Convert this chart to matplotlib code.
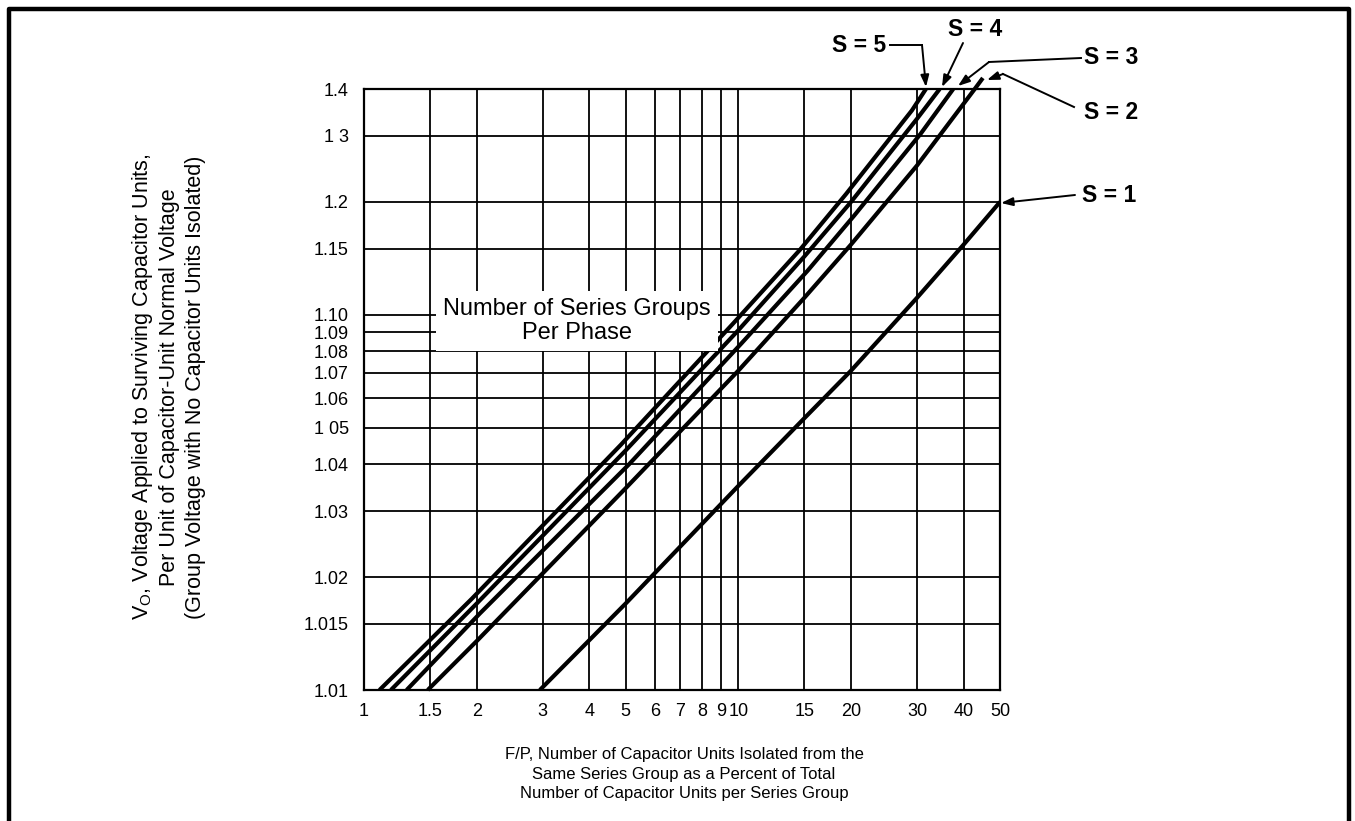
import numpy as np
import matplotlib
matplotlib.use("Agg")
import matplotlib.pyplot as plt
from matplotlib.lines import Line2D
from matplotlib.ticker import NullLocator, FixedLocator, FixedFormatter

plt.rcParams['font.family'] = ['Liberation Sans', 'DejaVu Sans']
plt.rcParams['mathtext.fontset'] = 'custom'
plt.rcParams['mathtext.rm'] = 'Liberation Sans'

# ---------------- data ----------------
x_ticks = [1, 1.5, 2, 3, 4, 5, 6, 7, 8, 9, 10, 15, 20, 30, 40, 50]
x_tick_labels = ["1", "1.5", "2", "3", "4", "5", "6", "7", "8", "9", "10",
                 "15", "20", "30", "40", "50"]
y_ticks = [1.01, 1.015, 1.02, 1.03, 1.04, 1.05, 1.06, 1.07, 1.08, 1.09,
           1.10, 1.15, 1.2, 1.3, 1.4]
y_tick_labels = ["1.01", "1.015", "1.02", "1.03", "1.04", "1 05", "1.06",
                 "1.07", "1.08", "1.09", "1.10", "1.15", "1.2", "1 3", "1.4"]

series_labels = ["S = 1", "S = 2", "S = 3", "S = 4", "S = 5"]

fp_s1 = [2.95, 5, 10, 15, 20, 30, 40, 50]
v_s1 = [1.010, 1.017, 1.035, 1.053, 1.071, 1.111, 1.154, 1.200]

fp_s2 = [1.48, 2, 5, 10, 15, 20, 30, 42.8, 45.0]
v_s2 = [1.010, 1.0135, 1.0345, 1.071, 1.111, 1.154, 1.25, 1.40, 1.428]

fp_s3 = [1.30, 2.04, 5.11, 10.2, 15.3, 20.4, 30.7, 37.5]
v_s3 = [1.010, 1.016, 1.040, 1.084, 1.131, 1.184, 1.304, 1.40]

fp_s4 = [1.18, 2, 5, 10, 15, 20, 30, 34.5]
v_s4 = [1.010, 1.017, 1.0435, 1.091, 1.143, 1.20, 1.333, 1.40]

fp_s5 = [1.10, 1.94, 4.85, 9.7, 14.6, 19.4, 29.1, 31.7]
v_s5 = [1.010, 1.0175, 1.045, 1.095, 1.149, 1.21, 1.351, 1.40]

series_fp = [fp_s1, fp_s2, fp_s3, fp_s4, fp_s5]
series_v = [v_s1, v_s2, v_s3, v_s4, v_s5]

# ---------------- figure ----------------
W, H = 1355, 821
fig = plt.figure(figsize=(W / 100, H / 100), dpi=100)
fig.patch.set_facecolor('white')


def fx(px):
    return px / W


def fy(py):
    return 1 - py / H


left, right, top, bottom = 364, 1000, 89, 690
ax = fig.add_axes([fx(left), fy(bottom), fx(right - left), (bottom - top) / H])


def fwd(v):
    v = np.asarray(v, dtype=float)
    return np.log10(np.clip(v - 1.0, 1e-9, None))


def inv(u):
    return 10 ** np.asarray(u, dtype=float) + 1.0


ax.set_xscale('log')
ax.set_yscale('function', functions=(fwd, inv))
ax.set_xlim(1, 50)
ax.set_ylim(1.01, 1.4)

for i, (fp, v) in enumerate(zip(series_fp, series_v)):
    ax.plot(fp, v, color='black', lw=3.0, solid_capstyle='butt',
            solid_joinstyle='round', zorder=4, clip_on=(i != 1))

ax.xaxis.set_major_locator(FixedLocator(x_ticks))
ax.xaxis.set_major_formatter(FixedFormatter(x_tick_labels))
ax.xaxis.set_minor_locator(NullLocator())
ax.yaxis.set_major_locator(FixedLocator(y_ticks))
ax.yaxis.set_major_formatter(FixedFormatter(y_tick_labels))
ax.yaxis.set_minor_locator(NullLocator())

ax.grid(True, which='major', color='black', lw=1.3)
ax.set_axisbelow(True)
ax.tick_params(axis='both', length=0, labelsize=13, colors='black')
ax.tick_params(axis='y', pad=11)
ax.tick_params(axis='x', pad=9)
for s in ax.spines.values():
    s.set_linewidth(1.6)
    s.set_color('black')

# in-plot caption with white background masking grid
fig.text(fx(577), fy(321), "Number of Series Groups\nPer Phase", ha='center',
         va='center', fontsize=17, linespacing=1.08, zorder=10,
         bbox=dict(facecolor='white', edgecolor='none', pad=5))

# axis titles
fig.text(fx(168), fy(387),
         "V$_{\\mathregular{O}}$, Voltage Applied to Surviving Capacitor Units,\n"
         "Per Unit of Capacitor-Unit Normal Voltage\n"
         "(Group Voltage with No Capacitor Units Isolated)",
         rotation=90, ha='center', va='center', fontsize=15.5,
         linespacing=1.28, multialignment='center')
fig.text(fx(684), fy(774),
         "F/P, Number of Capacitor Units Isolated from the\n"
         "Same Series Group as a Percent of Total\n"
         "Number of Capacitor Units per Series Group",
         ha='center', va='center', fontsize=12, linespacing=1.38,
         multialignment='center')

# series labels with leader arrows
lab_kw = dict(fontsize=16.5, fontweight='bold', va='center', ha='center')
arrow_kw = dict(arrowstyle='-|>,head_length=0.7,head_width=0.25', color='black',
                lw=1.4, shrinkA=0, shrinkB=0)


def seg(points):
    xs = [fx(p[0]) for p in points]
    ys = [fy(p[1]) for p in points]
    fig.add_artist(Line2D(xs, ys, color='black', lw=1.4))


def arrow(frm, to):
    ax.annotate("", xy=(fx(to[0]), fy(to[1])), xycoords='figure fraction',
                xytext=(fx(frm[0]), fy(frm[1])), textcoords='figure fraction',
                arrowprops=arrow_kw, annotation_clip=False)


# S = 5
fig.text(fx(859), fy(46), series_labels[4], **lab_kw)
seg([(890, 45), (922, 45)])
arrow((922, 45), (926, 87))
# S = 4
fig.text(fx(975), fy(29), series_labels[3], **lab_kw)
arrow((963, 43), (942, 87))
# S = 3
fig.text(fx(1111), fy(58), series_labels[2], **lab_kw)
seg([(1081, 58), (989, 62)])
arrow((989, 62), (958, 86))
# S = 2
fig.text(fx(1111), fy(112), series_labels[1], **lab_kw)
seg([(1074, 107), (1003, 74)])
arrow((1003, 74), (987, 80))
# S = 1
fig.text(fx(1109), fy(196), series_labels[0], **lab_kw)
arrow((1075, 195), (1001, 203))

# outer frame (left, top, right)
fig.add_artist(Line2D([fx(9), fx(9), fx(1349), fx(1349)],
                      [fy(821), fy(9.5), fy(9.5), fy(821)],
                      color='black', lw=3.2))

fig.savefig("out.png", dpi=100, facecolor='white')
